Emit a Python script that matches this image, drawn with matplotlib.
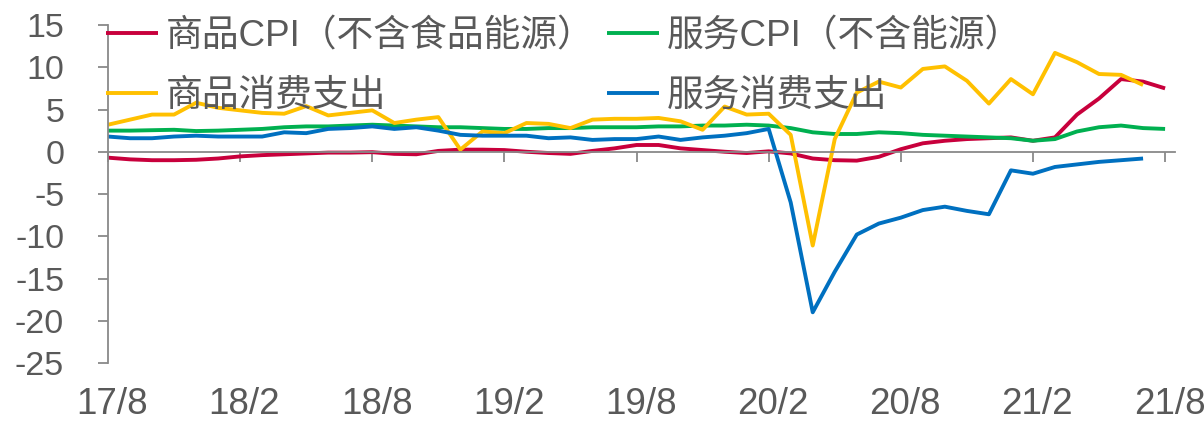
import matplotlib
matplotlib.use("Agg")
import matplotlib.pyplot as plt
import numpy as np

# 月度数据，17/8 起
goods_cpi = [-0.7, -0.9, -1.0, -1.0, -0.95, -0.8, -0.55, -0.4, -0.3, -0.2,
             -0.1, -0.1, -0.05, -0.25, -0.3, 0.1, 0.25, 0.25, 0.2, 0.0,
             -0.15, -0.25, 0.1, 0.4, 0.8, 0.8, 0.4, 0.2, 0.0, -0.15,
             0.05, -0.2, -0.8, -1.0, -1.05, -0.6, 0.3, 1.0, 1.3, 1.5,
             1.6, 1.7, 1.3, 1.7, 4.4, 6.3, 8.6, 8.3, 7.5]
services_cpi = [2.5, 2.5, 2.55, 2.6, 2.45, 2.5, 2.6, 2.7, 2.9, 3.0,
                3.0, 3.1, 3.2, 3.1, 3.0, 2.9, 2.9, 2.8, 2.7, 2.7,
                2.8, 2.8, 2.9, 2.9, 2.9, 3.0, 3.0, 3.1, 3.1, 3.2,
                3.1, 2.8, 2.3, 2.1, 2.1, 2.3, 2.2, 2.0, 1.9, 1.8,
                1.7, 1.6, 1.3, 1.5, 2.4, 2.9, 3.1, 2.8, 2.7]
goods_spend = [3.2, 3.8, 4.4, 4.4, 5.8, 5.2, 4.9, 4.6, 4.5, 5.4,
               4.3, 4.6, 4.9, 3.4, 3.8, 4.1, 0.25, 2.4, 2.2, 3.4,
               3.3, 2.8, 3.8, 3.9, 3.9, 4.0, 3.6, 2.6, 5.35, 4.4,
               4.5, 2.0, -11.1, 1.5, 7.0, 8.3, 7.6, 9.8, 10.1, 8.4,
               5.7, 8.6, 6.8, 11.7, 10.6, 9.2, 9.1, 7.9]
services_spend = [1.8, 1.6, 1.6, 1.8, 1.9, 1.8, 1.8, 1.8, 2.3, 2.2,
                  2.7, 2.8, 3.0, 2.7, 2.9, 2.5, 2.0, 1.9, 1.9, 1.9,
                  1.6, 1.7, 1.4, 1.5, 1.5, 1.8, 1.4, 1.7, 1.9, 2.2,
                  2.7, -6.0, -19.0, -14.2, -9.8, -8.5, -7.8, -6.9, -6.5, -7.0,
                  -7.4, -2.2, -2.6, -1.8, -1.5, -1.2, -1.0, -0.8]
tick_labels = ["17/8", "18/2", "18/8", "19/2", "19/8", "20/2", "20/8", "21/2", "21/8"]
yticks = [15, 10, 5, 0, -5, -10, -15, -20, -25]

names = ["商品CPI（不含食品能源）", "服务CPI（不含能源）", "商品消费支出", "服务消费支出"]
colors = ["#C8003C", "#00B050", "#FFC000", "#0070C0"]

text_color = "#595959"
axis_color = "#898989"
plt.rcParams["font.family"] = ["Liberation Sans", "Noto Sans CJK SC", "DejaVu Sans"]

fig = plt.figure(figsize=(12.04, 4.23), dpi=100)
ax = fig.add_axes([108 / 1204, 1 - 363 / 423, (1175 - 108) / 1204, 338 / 423])

series = [goods_cpi, services_cpi, goods_spend, services_spend]
lines = []
for vals, c, n in zip(series, colors, names):
    ln, = ax.plot(np.arange(len(vals)), vals, color=c, lw=2.8, label=n,
                  solid_joinstyle="round", solid_capstyle="butt")
    lines.append(ln)

ax.set_ylim(-25, 15)
ax.set_xlim(0, 48.45)
ax.set_yticks(yticks)
ax.set_yticklabels([str(v) for v in yticks])

ax.spines["top"].set_visible(False)
ax.spines["right"].set_visible(False)
ax.spines["bottom"].set_position(("data", 0))
for s in ["left", "bottom"]:
    ax.spines[s].set_color(axis_color)
    ax.spines[s].set_linewidth(1.3)

major = np.arange(0, 49, 6)
ax.set_xticks(major)
ax.tick_params(axis="x", direction="out", length=7.5, width=1.3, color=axis_color,
               labelbottom=False)
ax.tick_params(axis="y", direction="out", length=7.5, width=1.3, color=axis_color,
               labelsize=24.5, labelcolor=text_color, pad=24)

# 日期标签放在图底部
for pos, lab in zip(major, tick_labels):
    ax.text(pos + 0.2, -0.151, lab, transform=ax.get_xaxis_transform(),
            ha="center", va="baseline", fontsize=26.5, color=text_color,
            clip_on=False)

order = [0, 2, 1, 3]
leg = ax.legend([lines[i] for i in order], [names[i] for i in order],
                loc="upper left", bbox_to_anchor=(106 / 1204, 1 - 19 / 423),
                bbox_transform=fig.transFigure, ncol=2, frameon=False,
                fontsize=26.5, handlelength=1.4, handletextpad=0.22,
                columnspacing=0.35, labelspacing=0.68, borderpad=0, borderaxespad=0)
for t in leg.get_texts():
    t.set_color(text_color)

fig.savefig("out.png", dpi=100)
